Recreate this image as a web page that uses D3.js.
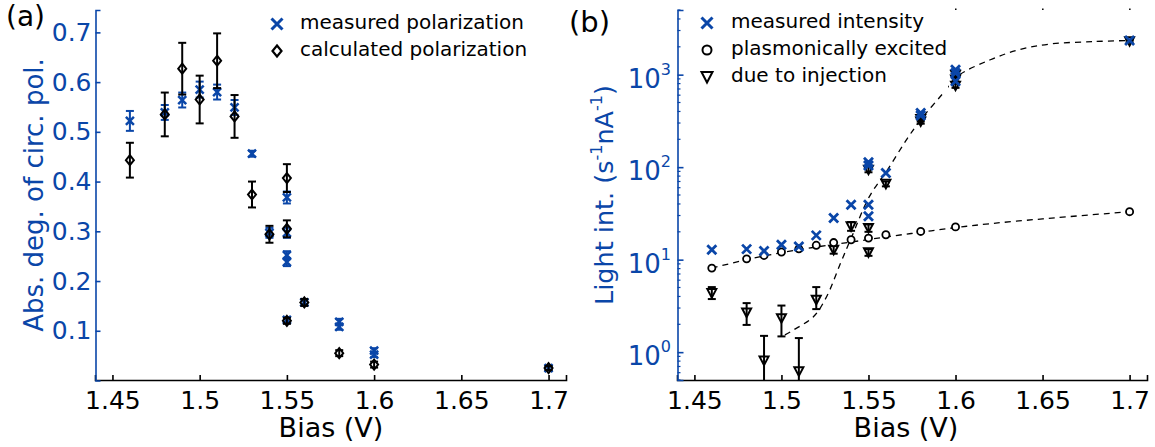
<!DOCTYPE html>
<html>
<head>
<meta charset="utf-8">
<script src="https://cdn.jsdelivr.net/npm/d3@7"></script>
<style>
  html, body { margin: 0; padding: 0; background: #fff; }
  svg { display: block; font-family: "DejaVu Sans", Verdana, sans-serif; }
</style>
</head>
<body>
<svg id="fig" width="1155" height="447"></svg>
<script>
// ---------- panel (a): degree of circular polarization ----------
const biasMeasA = [1.46, 1.48, 1.49, 1.50, 1.51, 1.52, 1.53, 1.54, 1.55, 1.55, 1.55, 1.55, 1.55, 1.56, 1.58, 1.58, 1.60, 1.60, 1.70];
const measPol    = [0.522, 0.539, 0.564, 0.585, 0.580, 0.549, 0.456, 0.297, 0.368, 0.297, 0.252, 0.238, 0.122, 0.157, 0.118, 0.108, 0.060, 0.052, 0.025];
const measPolErr = [0.020, 0.015, 0.015, 0.016, 0.015, 0.015, 0.006, 0.010, 0.012, 0.010, 0.008, 0.008, 0.005, 0.006, 0.006, 0.006, 0.005, 0.005, 0.004];

const biasCalcA = [1.46, 1.48, 1.49, 1.50, 1.51, 1.52, 1.53, 1.54, 1.55, 1.55, 1.55, 1.56, 1.58, 1.60, 1.70];
const calcPol    = [0.443, 0.535, 0.627, 0.565, 0.643, 0.531, 0.374, 0.294, 0.407, 0.305, 0.120, 0.157, 0.055, 0.032, 0.025];
const calcPolErr = [0.035, 0.044, 0.052, 0.048, 0.055, 0.043, 0.026, 0.017, 0.028, 0.017, 0.006, 0.007, 0.006, 0.006, 0.004];

const polTicks  = [0.1, 0.2, 0.3, 0.4, 0.5, 0.6, 0.7];
const biasTicks = [1.45, 1.5, 1.55, 1.6, 1.65, 1.7];
const biasTickLabels = ["1.45", "1.5", "1.55", "1.6", "1.65", "1.7"];

// ---------- panel (b): light intensity ----------
const biasMeasB = [1.46, 1.48, 1.49, 1.50, 1.51, 1.52, 1.53, 1.54, 1.55, 1.55, 1.55, 1.55, 1.56, 1.58, 1.58, 1.60, 1.60, 1.60, 1.70];
const measInt   = [12.8, 13.0, 12.4, 14.5, 13.9, 18.3, 28.2, 39.3, 113, 104, 39.3, 29.4, 86.5, 386, 362, 1130, 1040, 850, 2340];

const biasPlas  = [1.46, 1.48, 1.49, 1.50, 1.51, 1.52, 1.53, 1.54, 1.55, 1.56, 1.58, 1.60, 1.70];
const plasInt   = [8.1, 10.2, 11.1, 12.1, 13.1, 14.3, 15.3, 16.4, 17.1, 18.6, 20.2, 22.6, 33];

const biasInj   = [1.46, 1.48, 1.49, 1.50, 1.51, 1.52, 1.53, 1.54, 1.55, 1.55, 1.55, 1.56, 1.58, 1.58, 1.60, 1.60, 1.60, 1.70];
const injInt    = [4.35, 2.68, 0.81, 2.33, 0.62, 3.68, 12.8, 22.9, 94, 22.0, 12.0, 66, 332, 312, 1000, 885, 760, 2300];
const injLo     = [3.75, 1.97, 0.30, 1.48, 0.20, 2.92, 11.6, 20.5, 88, 20.0, 11.0, 62, 312, 295, 950, 840, 720, 2240];
const injHi     = [5.05, 3.39, 1.50, 3.19, 1.42, 5.05, 14.0, 25.5, 100, 24.0, 13.0, 70, 352, 330, 1050, 930, 800, 2360];

// dashed model curves
const fitPlasBias = [1.46, 1.48, 1.50, 1.52, 1.54, 1.56, 1.58, 1.60, 1.62, 1.65, 1.70];
const fitPlasVal  = [8.1, 10.0, 11.9, 13.7, 15.5, 17.6, 19.8, 22.2, 24.5, 27.6, 33];
const fitInjBias  = [1.502, 1.507, 1.5185, 1.526, 1.534, 1.540, 1.5505, 1.561, 1.572, 1.580, 1.593, 1.601, 1.620, 1.637, 1.655, 1.68, 1.70];
const fitInjVal   = [1.54, 1.74, 2.43, 4.0, 9.2, 17.0, 48, 94, 200, 325, 634, 958, 1450, 1870, 2150, 2280, 2340];

const intMajor = [1, 10, 100, 1000];
const intMajorExp = ["0", "1", "2", "3"];

// ---------- styling ----------
const BLUE = "#0a46a8";
const BLACK = "#000";
const svg = d3.select("#fig");

const xA = d3.scaleLinear().domain([1.44, 1.71]).range([95, 566]);
const yA = d3.scaleLinear().domain([0, 0.745]).range([380.5, 10]);
const xB = d3.scaleLinear().domain([1.44, 1.71]).range([677, 1147]);
const yB = d3.scaleLog().domain([0.5, 5000]).range([380, 10]);

const crossPathA  = "M-4,-4L4,4M-4,4L4,-4";
const crossPathB  = "M-4.5,-4.5L4.5,4.5M-4.5,4.5L4.5,-4.5";
const diamondPath = "M0,-5L4,0L0,5L-4,0Z";
const trianglePath = "M-4.5,-4L4.5,-4L0,4.5Z";

function errorBars(g, xs, lo, hi, x, y, color, width) {
  const grp = g.append("g").attr("stroke", color).attr("stroke-width", width).attr("fill", "none");
  xs.forEach((b, i) => {
    const px = x(b), p1 = y(lo[i]), p2 = y(hi[i]);
    grp.append("line").attr("x1", px).attr("x2", px).attr("y1", p1).attr("y2", p2);
    grp.append("line").attr("x1", px - 4).attr("x2", px + 4).attr("y1", p1).attr("y2", p1);
    grp.append("line").attr("x1", px - 4).attr("x2", px + 4).attr("y1", p2).attr("y2", p2);
  });
}

function markers(g, xs, ys, x, y, path, stroke, fill, sw) {
  g.append("g").selectAll("path").data(xs).join("path")
    .attr("d", path)
    .attr("transform", (d, i) => `translate(${x(d)},${y(ys[i])})`)
    .attr("stroke", stroke).attr("stroke-width", sw).attr("fill", fill)
    .attr("stroke-linejoin", "miter");
}

function xAxis(g, x, labelX) {
  const ax = g.append("g").attr("transform", "translate(0,380)")
    .call(d3.axisBottom(x).tickValues(biasTicks).tickSize(-5).tickPadding(11)
      .tickFormat((d, i) => biasTickLabels[i]));
  ax.select(".domain").attr("stroke", BLACK).attr("stroke-width", 1.6);
  ax.selectAll(".tick line").attr("stroke", BLACK).attr("stroke-width", 1.6);
  ax.selectAll(".tick text").attr("fill", BLACK).attr("font-size", 25)
    .attr("font-family", "DejaVu Sans").attr("dy", "0.71em");
  g.append("text").attr("x", labelX).attr("y", 437).attr("text-anchor", "middle")
    .attr("font-size", 27).attr("fill", BLACK).text("Bias (V)");
}

// ================= panel (a) =================
const gA = svg.append("g");
xAxis(gA, xA, 331);

const axYA = gA.append("g").attr("transform", "translate(95.5,0)")
  .call(d3.axisLeft(yA).tickValues(polTicks).tickSize(-5).tickPadding(4).tickFormat(d3.format(".1f")));
axYA.select(".domain").attr("stroke", BLUE).attr("stroke-width", 1.6);
axYA.selectAll(".tick line").attr("stroke", BLUE).attr("stroke-width", 1.6);
axYA.selectAll(".tick text").attr("fill", BLUE).attr("font-size", 25).attr("font-family", "DejaVu Sans");

gA.append("text").attr("transform", "translate(43,195) rotate(-90)").attr("text-anchor", "middle")
  .attr("font-size", 26).attr("fill", BLUE).text("Abs. deg. of circ. pol.");

errorBars(gA, biasMeasA, measPol.map((v, i) => v - measPolErr[i]), measPol.map((v, i) => v + measPolErr[i]), xA, yA, BLUE, 2);
markers(gA, biasMeasA, measPol, xA, yA, crossPathA, BLUE, "none", 2.5);
errorBars(gA, biasCalcA, calcPol.map((v, i) => v - calcPolErr[i]), calcPol.map((v, i) => v + calcPolErr[i]), xA, yA, BLACK, 2);
markers(gA, biasCalcA, calcPol, xA, yA, diamondPath, BLACK, "none", 2);

// legend (a)
const legA = gA.append("g");
legA.append("path").attr("d", "M-5.5,-5.5L5.5,5.5M-5.5,5.5L5.5,-5.5").attr("transform", "translate(277,24)")
  .attr("stroke", BLUE).attr("stroke-width", 3).attr("fill", "none");
legA.append("text").attr("x", 300).attr("y", 29).attr("font-size", 20).text("measured polarization");
legA.append("path").attr("d", "M0,-5.5L4.5,0L0,5.5L-4.5,0Z").attr("transform", "translate(277,51)")
  .attr("stroke", BLACK).attr("stroke-width", 2.2).attr("fill", "none");
legA.append("text").attr("x", 300).attr("y", 56).attr("font-size", 20).text("calculated polarization");

gA.append("text").attr("x", 6).attr("y", 26).attr("font-size", 28).text("(a)");

// ================= panel (b) =================
const gB = svg.append("g");
xAxis(gB, xB, 906);

const axYB = gB.append("g").attr("transform", "translate(677.5,0)")
  .call(d3.axisLeft(yB).tickValues(intMajor).tickSize(-6).tickFormat(() => ""));
axYB.select(".domain").attr("stroke", BLUE).attr("stroke-width", 1.6);
axYB.selectAll(".tick line").attr("stroke", BLUE).attr("stroke-width", 1.6);

// minor log ticks
const minorTicks = yB.ticks().filter(v => intMajor.indexOf(v) < 0);
gB.append("g").selectAll("line").data(minorTicks).join("line")
  .attr("x1", 677.5).attr("x2", 680.5)
  .attr("y1", d => yB(d)).attr("y2", d => yB(d))
  .attr("stroke", BLUE).attr("stroke-width", 1.2);

// power-of-ten labels
intMajor.forEach((v, i) => {
  const t = gB.append("text").attr("x", 671).attr("y", yB(v) + 13).attr("text-anchor", "end")
    .attr("fill", BLUE).attr("font-size", 26);
  t.append("tspan").text("10");
  t.append("tspan").attr("font-size", 16).attr("dy", -13).text(intMajorExp[i]);
});

const yTitle = gB.append("text").attr("transform", "translate(613,195) rotate(-90)")
  .attr("text-anchor", "middle").attr("font-size", 25.5).attr("fill", BLUE);
yTitle.append("tspan").text("Light int. (s");
yTitle.append("tspan").attr("font-size", 16).attr("dy", -11).text("-1");
yTitle.append("tspan").attr("dy", 11).text("nA");
yTitle.append("tspan").attr("font-size", 16).attr("dy", -11).text("-1");
yTitle.append("tspan").attr("dy", 11).text(")");

svg.append("defs").append("clipPath").attr("id", "clipB")
  .append("rect").attr("x", 677).attr("y", 0).attr("width", 480).attr("height", 380);

const plot = gB.append("g").attr("clip-path", "url(#clipB)");

const fitLine = d3.line().curve(d3.curveCatmullRom.alpha(0.5)).x(d => xB(d[0])).y(d => yB(d[1]));
plot.append("path").datum(fitPlasBias.map((b, i) => [b, fitPlasVal[i]]))
  .attr("d", fitLine).attr("fill", "none").attr("stroke", BLACK)
  .attr("stroke-width", 1.3).attr("stroke-dasharray", "6,5");
plot.append("path").datum(fitInjBias.map((b, i) => [b, fitInjVal[i]]))
  .attr("d", fitLine).attr("fill", "none").attr("stroke", BLACK)
  .attr("stroke-width", 1.3).attr("stroke-dasharray", "6,5");

errorBars(plot, biasInj, injLo, injHi, xB, yB, BLACK, 2);
markers(plot, biasInj, injInt, xB, yB, trianglePath, BLACK, "none", 2);
markers(plot, biasPlas, plasInt, xB, yB, d3.symbol(d3.symbolCircle, 40)(), BLACK, "#fff", 1.8);
markers(plot, biasMeasB, measInt, xB, yB, crossPathB, BLUE, "none", 2.8);

// legend (b)
const legB = gB.append("g");
legB.append("rect").attr("x", 690).attr("y", 0).attr("width", 258).attr("height", 92).attr("fill", "#fff");
legB.append("path").attr("d", "M-5.5,-5.5L5.5,5.5M-5.5,5.5L5.5,-5.5").attr("transform", "translate(707,23)")
  .attr("stroke", BLUE).attr("stroke-width", 3).attr("fill", "none");
legB.append("text").attr("x", 731).attr("y", 28).attr("font-size", 20).text("measured intensity");
legB.append("circle").attr("cx", 707).attr("cy", 50).attr("r", 4.5)
  .attr("stroke", BLACK).attr("stroke-width", 2).attr("fill", "none");
legB.append("text").attr("x", 731).attr("y", 55).attr("font-size", 20).text("plasmonically excited");
legB.append("path").attr("d", "M-5.5,-5L5.5,-5L0,5.5Z").attr("transform", "translate(707,77)")
  .attr("stroke", BLACK).attr("stroke-width", 2).attr("fill", "none");
legB.append("text").attr("x", 731).attr("y", 82).attr("font-size", 20).text("due to injection");

// small top-frame tick marks
gB.append("g").selectAll("rect").data(biasTicks.filter(b => xB(b) > 950)).join("rect")
  .attr("x", d => xB(d) - 0.5).attr("y", 8.5).attr("width", 1.5).attr("height", 1.5).attr("fill", BLACK);

gB.append("text").attr("x", 569).attr("y", 32).attr("font-size", 29).text("(b)");
</script>
</body>
</html>
